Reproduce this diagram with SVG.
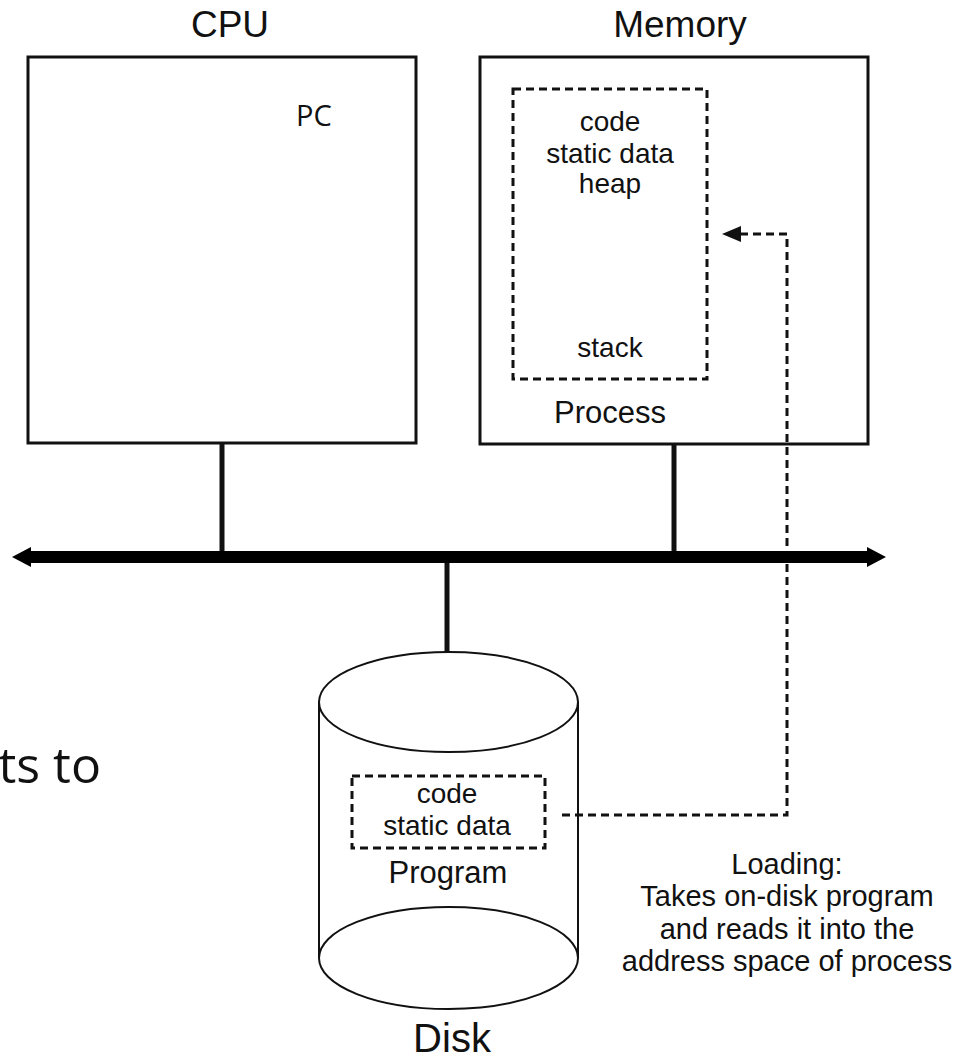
<svg xmlns="http://www.w3.org/2000/svg" width="955" height="1059" viewBox="0 0 955 1059">
  <defs>
    <style>
      .box { fill: #fff; stroke: #111; stroke-width: 3; }
      .dash { fill: none; stroke: #111; stroke-width: 3; stroke-dasharray: 8 5; }
      .thin { fill: none; stroke: #111; stroke-width: 2; }
      .link { stroke: #111; stroke-width: 5; fill: none; }
      .t { font-family: "Liberation Sans", Arial, sans-serif; fill: #111; text-anchor: middle; }
      .big { font-size: 37px; }
      .mid { font-size: 31px; }
      .sm { font-size: 28px; }
      .note { font-size: 29px; }
      .cal { font-family: "Open Sans", "Noto Sans", sans-serif; fill: #111; }
    </style>
    <marker id="ah" markerUnits="userSpaceOnUse" markerWidth="20" markerHeight="18" viewBox="0 0 20 18" refX="19" refY="9" orient="auto">
      <path d="M0,1 L19,9 L0,17 Z" fill="#111"/>
    </marker>
  </defs>
  <rect width="955" height="1059" fill="#fff"/>

  <g id="cpu">
    <rect class="box" x="28" y="57" width="388" height="386"/>
    <text class="t big" x="230" y="37">CPU</text>
    <text class="cal" x="296" y="126" font-size="29">PC</text>
  </g>

  <g id="memory">
    <rect class="box" x="480" y="57" width="388" height="387"/>
    <text class="t big" x="680" y="37">Memory</text>
  </g>

  <g id="process">
    <rect class="dash" x="513" y="89" width="194" height="290"/>
    <text class="t sm" x="610" y="131">code</text>
    <text class="t sm" x="610" y="163">static data</text>
    <text class="t sm" x="610" y="193">heap</text>
    <text class="t sm" x="610" y="357">stack</text>
    <text class="t mid" x="610" y="423">Process</text>
  </g>

  <g id="disk">
    <path class="thin" d="M319,702 L319,958 M578,702 L578,958"/>
    <ellipse class="thin" cx="448.5" cy="702" rx="129.5" ry="50"/>
    <ellipse class="thin" cx="448.5" cy="958" rx="129.5" ry="51"/>
    <text class="t" x="452" y="1052" font-size="40">Disk</text>
  </g>

  <g id="program">
    <rect class="dash" x="352" y="776" width="193" height="72"/>
    <text class="t sm" x="447" y="803">code</text>
    <text class="t sm" x="447" y="835">static data</text>
    <text class="t mid" x="448" y="883">Program</text>
  </g>

  <g id="loading-note">
    <text class="t note" x="787" y="874">Loading:</text>
    <text class="t note" x="787" y="906">Takes on-disk program</text>
    <text class="t note" x="787" y="939">and reads it into the</text>
    <text class="t note" x="787" y="971">address space of process</text>
  </g>

  <g id="partial-text">
    <text class="cal" x="101" y="783" font-size="50" text-anchor="end">ts to</text>
  </g>

  <g id="connectors">
    <line class="link" x1="222" y1="444" x2="222" y2="553"/>
    <line class="link" x1="674" y1="444" x2="674" y2="553"/>
    <line class="link" x1="447" y1="561" x2="447" y2="653"/>
    <polyline class="dash" points="562,815 787,815 787,234 722,234" marker-end="url(#ah)"/>
  </g>

  <g id="bus">
    <path d="M12,557 L31,547 L31,551 L867,551 L867,547 L886,557 L867,567 L867,563 L31,563 L31,567 Z" fill="#000"/>
  </g>
</svg>
